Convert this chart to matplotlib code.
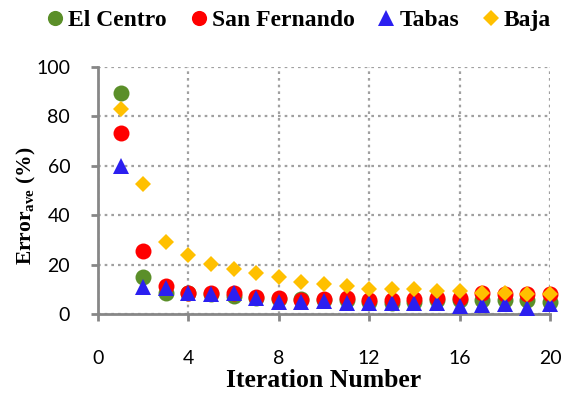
import matplotlib
matplotlib.use("Agg")
from matplotlib import pyplot as plt

# iteration-wise average error for each record
iterations = list(range(1, 21))
el_centro = [89.6, 15.1, 8.4, 8.4, 8.0, 7.3, 6.6, 6.0, 6.0, 5.7, 5.7, 5.0, 4.3, 5.0, 5.7, 5.7, 5.7, 5.5, 5.5, 5.0]
san_fernando = [73.4, 25.6, 11.3, 8.6, 8.4, 8.6, 7.0, 6.3, 5.7, 6.0, 6.3, 5.7, 5.7, 6.0, 6.3, 6.3, 8.4, 8.1, 8.1, 8.1]
tabas = [59.8, 11.0, 10.7, 8.6, 8.0, 8.4, 6.3, 5.0, 5.0, 5.3, 4.6, 4.6, 4.3, 4.3, 4.3, 3.4, 3.6, 4.0, 2.3, 4.0]
baja = [83.0, 52.6, 29.0, 23.9, 20.2, 18.1, 16.7, 15.1, 12.8, 12.1, 11.3, 10.1, 10.1, 10.0, 9.4, 9.4, 8.4, 8.4, 8.1, 8.1]

x_ticks = [0, 4, 8, 12, 16, 20]
y_ticks = [0, 20, 40, 60, 80, 100]

series = [
    ("El Centro", el_centro, "o", "#5b8f29", 11.5),
    ("San Fernando", san_fernando, "o", "#ff0000", 11.5),
    ("Tabas", tabas, "^", "#2b1ff0", 11.5),
    ("Baja", baja, "D", "#ffc000", 8.5),
]

plt.rcParams["mathtext.fontset"] = "custom"
plt.rcParams["mathtext.rm"] = "Liberation Serif:bold"
plt.rcParams["mathtext.bf"] = "Liberation Serif:bold"

fig = plt.figure(figsize=(5.63, 3.93), dpi=100)
ax = fig.add_axes([0.174, 0.201, 0.803, 0.629])

for name, values, marker, color, size in series:
    ax.plot(iterations, values, linestyle="none", marker=marker, ms=size,
            color=color, markeredgewidth=0, label=name, clip_on=False, zorder=3)

ax.set_xlim(0, 20)
ax.set_ylim(0, 100)
ax.set_xticks(x_ticks)
ax.set_yticks(y_ticks)
ax.grid(True, color="#a0a0a0", linestyle=(0, (1.2, 1.8)), linewidth=1.6)
ax.set_axisbelow(True)

for side in ["top", "right"]:
    ax.spines[side].set_visible(False)
for side in ["left", "bottom"]:
    ax.spines[side].set_color("#878787")
    ax.spines[side].set_linewidth(2)

ax.tick_params(axis="both", direction="out", length=5, width=2, color="#878787",
               labelsize=14)
ax.tick_params(axis="x", pad=21)
ax.tick_params(axis="y", pad=15)
for lbl in ax.get_xticklabels() + ax.get_yticklabels():
    lbl.set_family("Lato")

ax.set_xlabel("Iteration Number", family="Liberation Serif", fontweight="bold",
              fontsize=18.5)
ax.xaxis.set_label_coords(0.5, -0.222)
ax.set_ylabel(r"Error$_{\mathrm{ave}}$ (%)", family="Liberation Serif",
              fontweight="bold", fontsize=15.5)
ax.yaxis.set_label_coords(-0.133, 0.44)

fig.legend(loc="center", bbox_to_anchor=(0.527, 0.948), ncol=4, frameon=False,
           prop={"family": "Liberation Serif", "weight": "bold", "size": 17},
           handletextpad=0.0, columnspacing=0.8, handlelength=1.1, markerscale=0.95)

fig.savefig("out.png", dpi=100)
